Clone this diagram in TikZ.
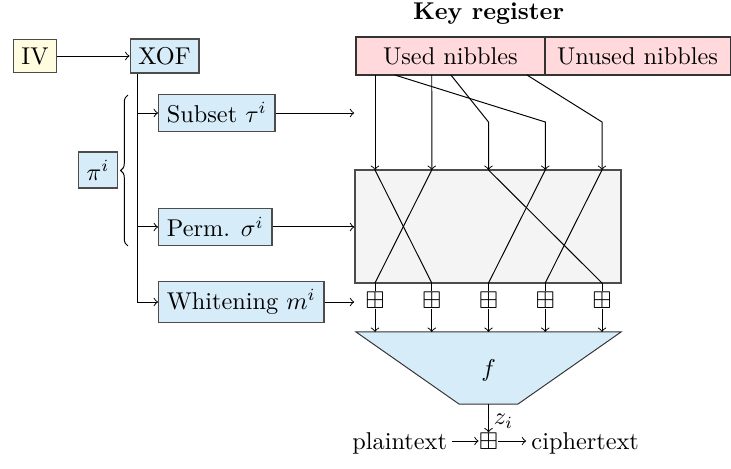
\documentclass[tikz,border=0pt]{standalone}
\usepackage{amssymb}
\usetikzlibrary{positioning,decorations.pathreplacing,calc}
\definecolor{ivyellow}{RGB}{255,252,224}
\definecolor{boxblue}{RGB}{214,236,248}
\definecolor{keypink}{RGB}{255,217,219}
\definecolor{boxgray}{RGB}{244,244,244}

\begin{document}
\begin{tikzpicture}[
  blk/.style={draw=black!70, semithick, fill=boxblue},
  reg/.style={draw=black!80, semithick, fill=keypink, outer sep=0pt, minimum height=0.55cm},
  xr/.style={inner sep=0pt}
]
\useasboundingbox (0,0) rectangle (10.57,-6.78);
  % nonce side
  \node[blk, fill=ivyellow] (iv) at (0.506,-0.81) {IV};
  \node[blk] (xof) at (2.379,-0.81) {XOF};
  \draw[->] (iv) -- (xof);
  \node[blk, anchor=west] (subset) at (2.285,-1.634) {Subset $\tau^i$};
  \node[blk, anchor=west] (perm) at (2.285,-3.282) {Perm. $\sigma^i$};
  \node[blk, anchor=west] (white) at (2.285,-4.367) {Whitening $m^i$};
  \node[blk] (pi) at (1.417,-2.458) {$\pi^i$};
  \draw[decorate, decoration={brace, amplitude=3pt}] (1.85,-3.557) -- (1.85,-1.374);
  \coordinate (tk) at ([xshift=0.116cm]xof.south west);
  \draw[->] (tk) |- (white);
  \draw[->] (tk |- subset) -- (subset);
  \draw[->] (tk |- perm) -- (perm);
  % key register
  \node[font=\bfseries] (keylbl) at (7.064,-0.19) {Key register};
  \node[reg, minimum width=2.73cm] (used) at (6.514,-0.81) {Used nibbles};
  \node[reg, minimum width=2.68cm, anchor=west] (unused) at (used.east) {Unused nibbles};
  % permutation box
  \node[draw=black!70, semithick, fill=boxgray, minimum width=3.847cm, minimum height=1.634cm] (pbox) at (7.056,-3.275) {};
  \draw[->] (subset) -- (pbox.west |- subset);
  \draw[->] (perm) -- (pbox.west |- perm);
  \draw[->] (white) -- (pbox.west |- white);
  \coordinate (bend) at (0,-1.764);
  \coordinate (ftop) at (0,-4.80);
  \foreach \i in {1,...,5} {
    \coordinate (t\i) at ({5.4225+(\i-1)*0.8206},-2.458);
    \coordinate (b\i) at ({5.4225+(\i-1)*0.8206},-4.092);
    \node[xr] (x\i) at ({5.4225+(\i-1)*0.8206},-4.338) {$\boxplus$};
  }
  % nibbles into the box
  \foreach \kx [count=\i] in {5.4225,6.243,6.52,5.71,7.62} {
    \coordinate (k\i) at (\kx,0);
    \draw[->] (used.south -| k\i) -- (bend -| t\i) -- (t\i);
  }
  \foreach \a/\b in {1/2,2/1,3/5,4/3,5/4}
    \draw (t\a) -- (b\b);
  % filter
  \draw[draw=black!80, fill=boxblue] (5.148,-4.80) -- (8.98,-4.80) -- (7.49,-5.842) -- (6.637,-5.842) -- cycle;
  \node (f) at (7.064,-5.35) {$f$};
  \coordinate (fout) at (7.064,-5.842);
  \foreach \i in {1,...,5} {
    \draw (b\i) -- (x\i);
    \draw[->] (x\i) -- (x\i |- ftop);
  }
  % output
  \node[xr] (xz) at (7.064,-6.377) {$\boxplus$};
  \node[anchor=base east, inner sep=2pt] (pt) at ([xshift=-0.38cm]xz.base west) {plaintext};
  \node[anchor=base west, inner sep=2pt] (ct) at ([xshift=0.40cm]xz.base east) {ciphertext};
  \draw[->] (fout) -- node[right, inner sep=2pt, pos=0.6] {$z_i$} (xz);
  \draw[->] (pt.east |- xz) -- (xz);
  \draw[->] (xz) -- (ct.west |- xz);
\end{tikzpicture}
\end{document}
